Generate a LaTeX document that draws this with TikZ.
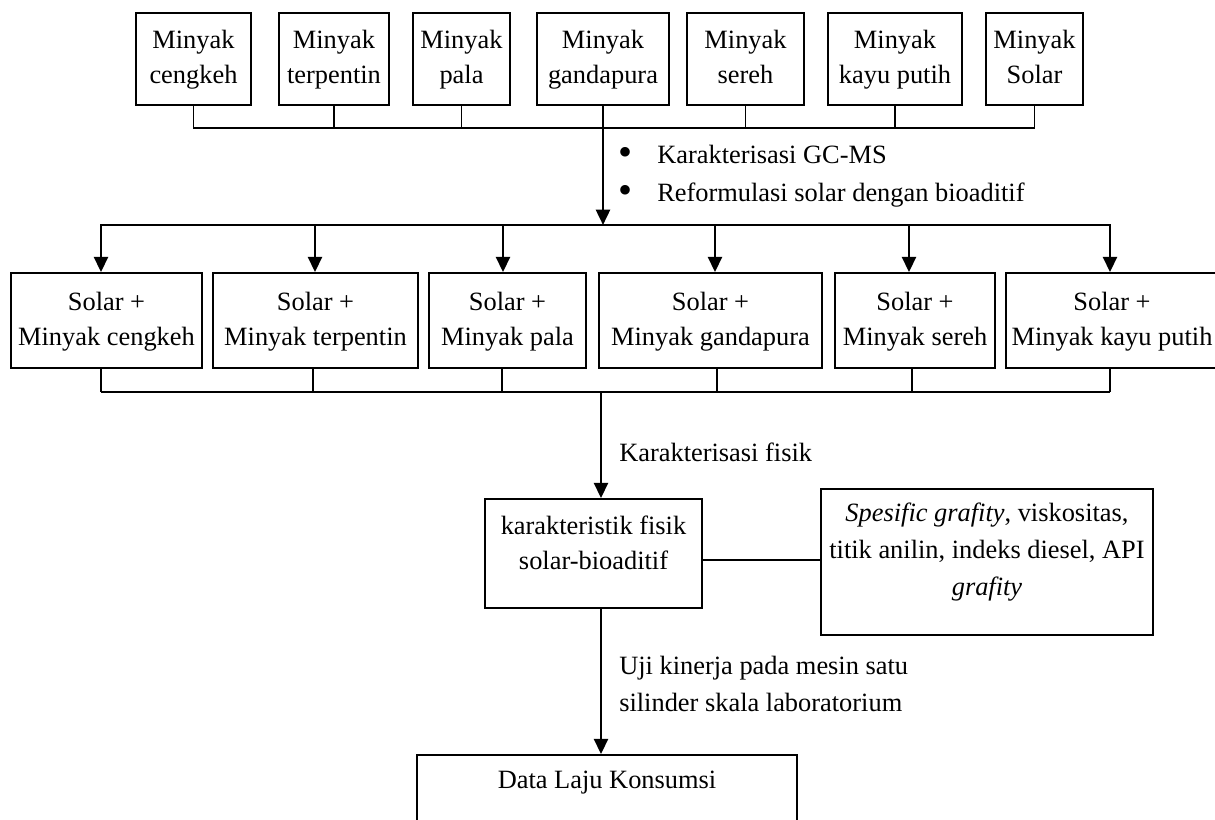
\documentclass[tikz,border=0pt]{standalone}
\usepackage{fontspec}
\setmainfont{Liberation Serif}
\usetikzlibrary{arrows.meta}
\begin{document}
\begin{tikzpicture}[x=0.75pt,y=-0.75pt,
  font=\fontsize{19.8pt}{26.25pt}\selectfont,
  box/.style={draw, line width=1.3pt, inner sep=0pt, align=center},
  wh/.style 2 args={minimum width=#1*0.75pt, minimum height=#2*0.75pt},
  thinline/.style={line width=1.3pt},
  thickline/.style={line width=1.9pt, line cap=rect},
  arr/.style={line width=1.9pt, -{Triangle[width=10.5pt,length=11.5pt]}},
  txt/.style={inner sep=0pt, align=left},
  bul/.style={inner sep=0pt, font=\fontsize{30pt}{30pt}\selectfont},
  wide/.style={font=\fontsize{19.8pt}{27.75pt}\selectfont}]
\useasboundingbox (0,0) rectangle (1215,820);

% top row
\node[box,wh={115}{92}] (t1) at (193.5,59) {\strut Minyak\\cengkeh\strut};
\node[box,wh={110}{92}] (t2) at (334,59) {\strut Minyak\\terpentin\strut};
\node[box,wh={97}{92}] (t3) at (461.5,59) {\strut Minyak\\pala\strut};
\node[box,wh={132}{92}] (t4) at (603,59) {\strut Minyak\\gandapura\strut};
\node[box,wh={117}{92}] (t5) at (745.5,59) {\strut Minyak\\sereh\strut};
\node[box,wh={134}{92}] (t6) at (895,59) {\strut Minyak\\kayu putih\strut};
\node[box,wh={97}{92}] (t7) at (1034.5,59) {\strut Minyak\\Solar\strut};

\coordinate (jl) at (0,128);
\draw[thinline] (t1.south) -- (t1.south |- jl) -- (t7.south |- jl) -- (t7.south);
\foreach \n in {2,3,5,6} \draw[thinline] (t\n.south) -- (t\n.south |- jl);

% bullets
\node[bul] (bu1) at (625,156) {\textbullet};
\node[bul] (bu2) at (625,194) {\textbullet};
\node[txt, anchor=base west] (g1) at (657,164) {Karakterisasi GC-MS};
\node[txt, anchor=base west] (g2) at (657,202) {Reformulasi solar dengan bioaditif};

% second row
\node[box,wh={191}{95}] (s1) at (106.5,320.5) {\strut Solar +\\Minyak cengkeh\strut};
\node[box,wh={205}{95}] (s2) at (315.5,320.5) {\strut Solar +\\Minyak terpentin\strut};
\node[box,wh={157}{95}] (s3) at (507.5,320.5) {\strut Solar +\\Minyak pala\strut};
\node[box,wh={223}{95}] (s4) at (710.5,320.5) {\strut Solar +\\Minyak gandapura\strut};
\node[box,wh={160}{95}] (s5) at (915,320.5) {\strut Solar +\\Minyak sereh\strut};
\node[box,wh={212}{95}] (s6) at (1112,320.5) {\strut Solar +\\Minyak kayu putih\strut};

\coordinate (a1) at (101,225);
\coordinate (a2) at (315,225);
\coordinate (a3) at (503,225);
\coordinate (a4) at (715,225);
\coordinate (a5) at (909,225);
\coordinate (a6) at (1110,225);
\draw[arr] (t4.south) -- (t4.south |- a1);
\draw[thickline] (a1) -- (a6);
\foreach \i in {1,...,6} \draw[arr] (a\i) -- (a\i |- s1.north);

\coordinate (b1) at (101,392);
\coordinate (b2) at (313,392);
\coordinate (b3) at (502,392);
\coordinate (b4) at (717,392);
\coordinate (b5) at (912,392);
\coordinate (b6) at (1110,392);
\draw[thinline] (b1) -- (b6);
\foreach \i in {1,...,6} \draw[thinline] (b\i |- s\i.south) -- (b\i);

% characteristics
\coordinate (m1) at (601,392);
\node[box,wh={217}{109}] (kar) at (593.5,553.5) {};
\node[txt, align=center] (kart) at (593.5,542.5) {karakteristik fisik\\solar-bioaditif};
\draw[arr] (m1) -- (m1 |- kar.north);
\node[txt, anchor=base west] (lab2) at (619,461) {Karakterisasi fisik};

\node[box,wh={332}{146}] (spec) at (987,562) {};
\node[txt, align=center, wide] (spect) at (987,552.5) {\textit{Spesific grafity}, viskositas,\\titik anilin, indeks diesel, API\\\textit{grafity}};
\coordinate (cy) at (0,560);
\draw[thinline] (kar.east |- cy) -- (spec.west |- cy);

% data
\node[box,wh={380}{110}] (data) at (607,810) {};
\node[txt] (datat) at (607,783) {Data Laju Konsumsi};
\draw[arr] (kar.south -| m1) -- (m1 |- data.north);
\node[txt, anchor=west, wide] (uji) at (619,683.5) {Uji kinerja pada mesin satu\\silinder skala laboratorium};
\end{tikzpicture}
\end{document}
